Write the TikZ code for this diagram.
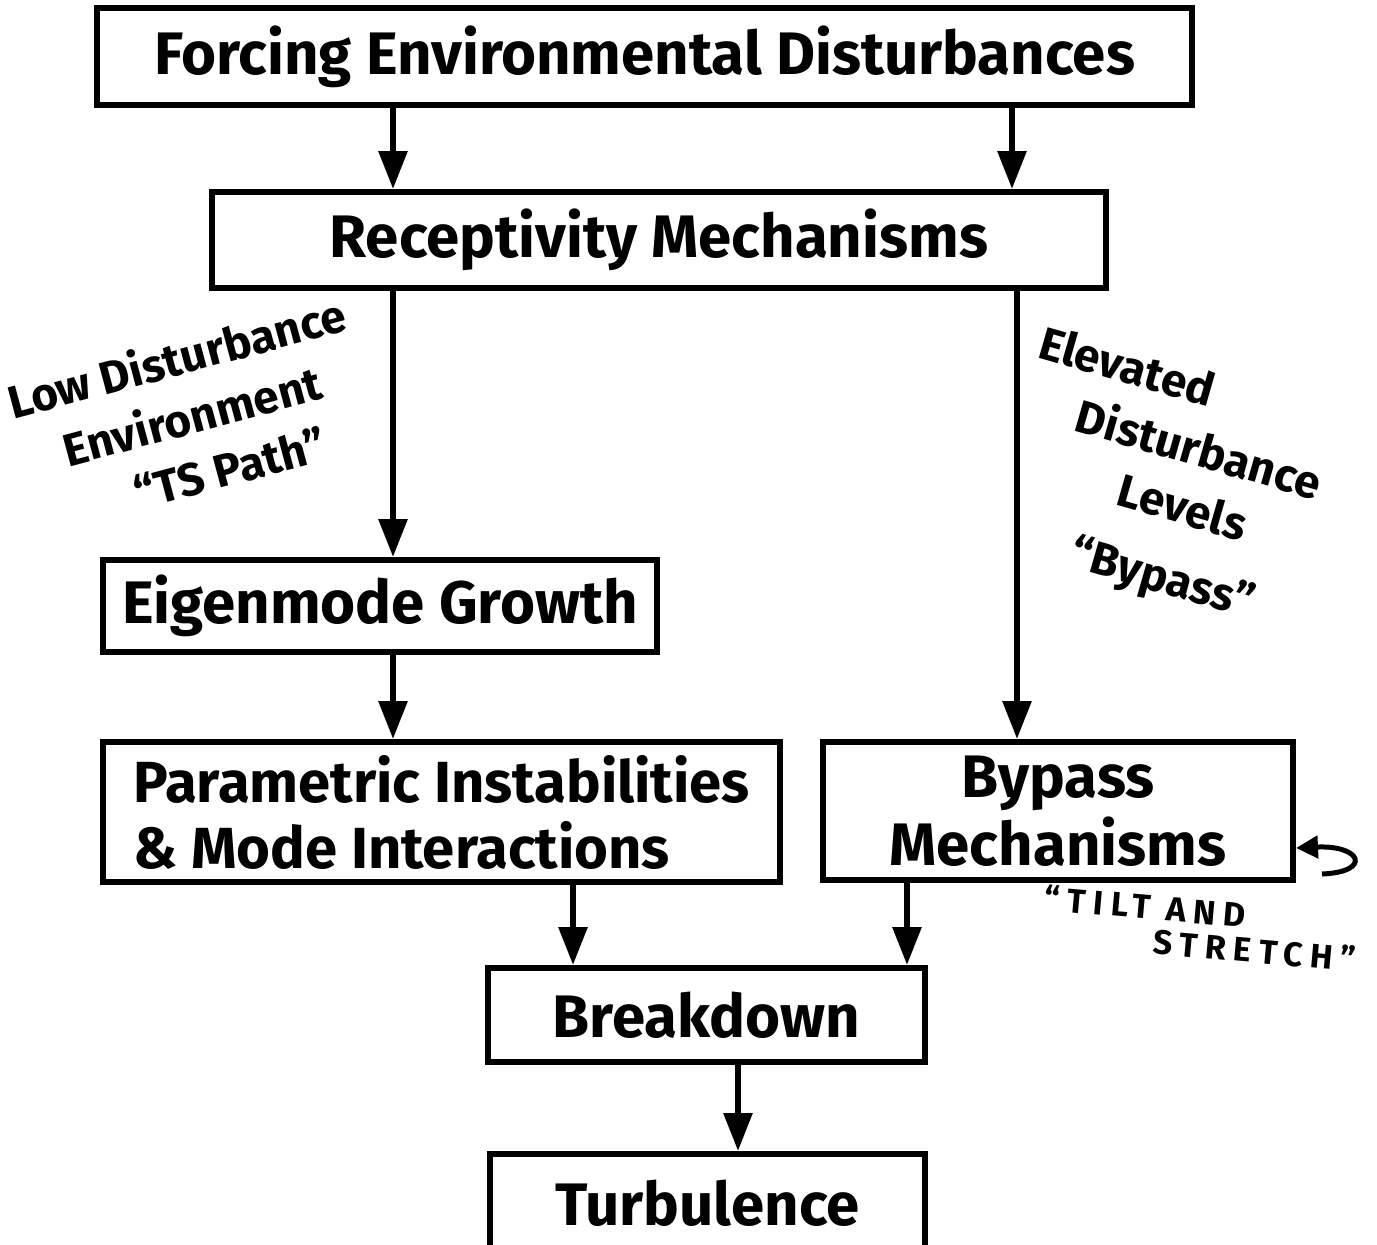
\documentclass[tikz,border=0pt]{standalone}
\usepackage{fontspec}
\setmainfont{Fira Sans}
\usetikzlibrary{arrows.meta, positioning, calc}

\begin{document}
\begin{tikzpicture}[x=1pt,y=-1pt,
  box/.style={draw,line width=6pt,inner sep=0pt,align=center,
    font=\fontsize{60}{68}\selectfont\bfseries},
  flow/.style={line width=6pt,-{Triangle[width=28pt,length=38pt]}},
  note/.style={inner sep=0pt,align=center,font=\fontsize{46}{60}\selectfont\bfseries}]
\useasboundingbox (0,0) rectangle (1377,1245);
% boxes
\node[box,minimum width=1095pt,minimum height=97pt] (force) at (644.5,56.5) {Forcing Environmental Disturbances};
\node[box,minimum width=894pt,minimum height=96pt] (recep) at (659,240) {Receptivity Mechanisms};
\node[box,minimum width=554pt,minimum height=92pt] (eigen) at (380,606) {Eigenmode Growth};
\node[box,align=left,font=\fontsize{58}{66}\selectfont\bfseries,minimum width=677pt,minimum height=140pt] (param) at (441.5,812) {Parametric Instabilities\\\& Mode Interactions};
\node[box,minimum width=470pt,minimum height=138pt] (bypass) at (1058,811) {Bypass\\Mechanisms};
\node[box,minimum width=437pt,minimum height=94pt] (brk) at (706.5,1015) {Breakdown};
\node[box,minimum width=435pt,minimum height=98pt] (turb) at (707.5,1203) {Turbulence};
% arrows
\draw[flow] (force.south -| 393,0) -- (recep.north -| 393,0);
\draw[flow] (force.south -| 1012,0) -- (recep.north -| 1012,0);
\draw[flow] (recep.south -| 393,0) -- (eigen.north -| 393,0);
\draw[flow] (recep.south -| 1017,0) -- (bypass.north -| 1017,0);
\draw[flow] (eigen.south -| 393,0) -- (param.north -| 393,0);
\draw[flow] (param.south -| 573,0) -- (brk.north -| 573,0);
\draw[flow] (bypass.south -| 907,0) -- (brk.north -| 907,0);
\draw[flow] (brk.south -| 738,0) -- (turb.north -| 738,0);
% notes
\node[note,rotate=15] (lowenv) at (192,415) {Low Disturbance\\Environment\\\hspace*{1em}“TS Path”};
\node[note,rotate=-16] (elev) at (1188,488) {Elevated\hspace*{4em}\\Disturbance\\Levels\\[12pt]“Bypass”};
\node[note,rotate=-5,anchor=north west,align=left,font=\fontsize{34}{34}\selectfont\bfseries\addfontfeature{LetterSpace=22}] (tilt) at (1046,884) {“TILT AND\\\hspace*{3.3em}STRETCH”};
\coordinate (loopend) at (1322,874);
\draw[line width=5pt,-{Triangle[width=22pt,length=22pt]}] (loopend) .. controls (1372,872) and (1362,845) .. ([yshift=-37pt]bypass.east);
\end{tikzpicture}
\end{document}
